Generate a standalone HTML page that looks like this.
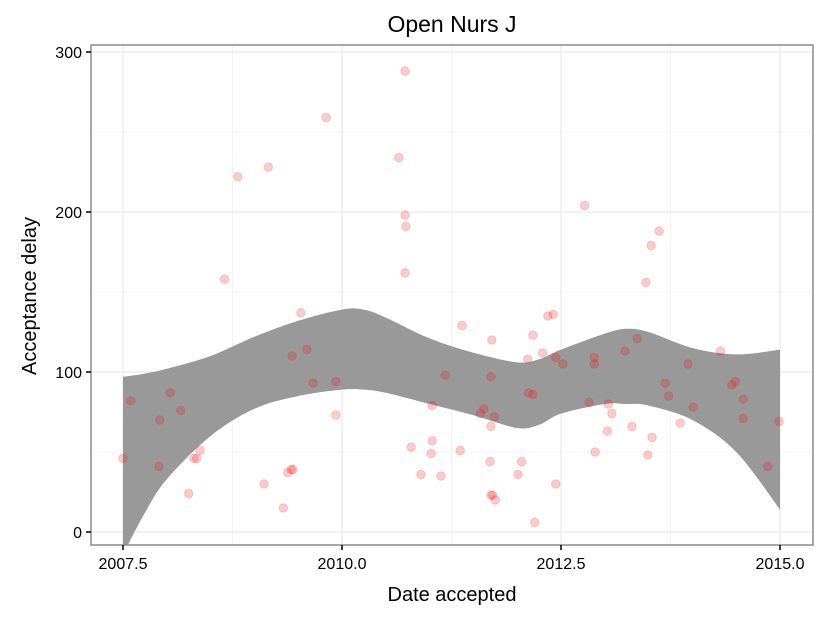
<!DOCTYPE html>
<html><head><meta charset="utf-8"><style>
body{margin:0;background:#fff}
svg text{font-family:"Liberation Sans",sans-serif}
</style></head><body>
<svg id="chart" width="825" height="618">
<text x="452" y="32" font-size="23" text-anchor="middle">Open Nurs J</text>
<text x="452" y="601" font-size="20" text-anchor="middle">Date accepted</text>
<text transform="translate(36,296) rotate(-90)" font-size="20" text-anchor="middle">Acceptance delay</text>
<defs><clipPath id="pc"><rect x="91" y="45" width="722" height="500"/></clipPath></defs>
<g id="grid"></g>
<g id="band" clip-path="url(#pc)"></g>
<g id="pts" clip-path="url(#pc)"></g>
<rect x="91" y="45" width="722" height="500" fill="none" stroke="#8a8a8a" stroke-width="1.5"/>
<g id="axes"></g>
</svg>
<script>
const xTicks=[2007.5,2010.0,2012.5,2015.0];
const xTickLabels=["2007.5","2010.0","2012.5","2015.0"];
const yTicks=[0,100,200,300];
const yTickLabels=["0","100","200","300"];
const dates=[2007.50,2007.59,2007.92,2007.91,2008.04,2008.16,2008.25,2008.31,2008.34,2008.38,2008.66,2008.81,2009.11,2009.16,2009.33,2009.38,2009.42,2009.44,2009.43,2009.53,2009.60,2009.67,2009.82,2009.93,2009.93,2010.65,2010.72,2010.72,2010.73,2010.72,2010.79,2010.90,2011.02,2011.03,2011.03,2011.13,2011.18,2011.35,2011.37,2011.58,2011.62,2011.69,2011.70,2011.70,2011.71,2011.70,2011.72,2011.74,2011.75,2012.01,2012.05,2012.12,2012.13,2012.18,2012.20,2012.18,2012.29,2012.35,2012.41,2012.44,2012.44,2012.52,2012.77,2012.82,2012.88,2012.88,2012.89,2013.03,2013.04,2013.08,2013.23,2013.31,2013.37,2013.47,2013.49,2013.53,2013.54,2013.62,2013.69,2013.73,2013.86,2013.95,2014.01,2014.32,2014.45,2014.49,2014.58,2014.58,2014.86,2014.99];
const delays=[46,82,70,41,87,76,24,46,46,51,158,222,30,228,15,37,39,39,110,137,114,93,259,94,73,234,288,198,191,162,53,36,49,57,79,35,98,51,129,74,77,44,97,66,120,23,23,72,20,36,44,108,87,86,6,123,112,135,136,30,109,105,204,81,109,105,50,63,80,74,113,66,121,156,48,179,59,188,93,85,68,105,78,113,92,94,83,71,41,69];
const bandX=[2007.5,2007.75,2008,2008.5,2009,2009.5,2010,2010.25,2010.5,2011,2011.5,2012,2012.25,2012.5,2013,2013.25,2013.5,2014,2014.5,2015];
const bandUpper=[97,99,102,110,122,132,139,139,134,121,112,106,108,114,124,127,125,115,111,114];
const bandLower=[-14,12,33,60,77,85,89,89,87,80,73,65,67,74,80,80,79,70,50,14];
const sx=v=>123+(v-2007.5)*87.6, sy=v=>532-v*1.6;
const NS="http://www.w3.org/2000/svg";
function mk(t,a,p){const e=document.createElementNS(NS,t);for(const k in a)e.setAttribute(k,a[k]);p.appendChild(e);return e;}
function spline(P){let s='';for(let i=0;i<P.length-1;i++){const p0=P[Math.max(0,i-1)],p1=P[i],p2=P[i+1],p3=P[Math.min(P.length-1,i+2)];
s+='C'+(p1[0]+(p2[0]-p0[0])/6)+','+(p1[1]+(p2[1]-p0[1])/6)+' '+(p2[0]-(p3[0]-p1[0])/6)+','+(p2[1]-(p3[1]-p1[1])/6)+' '+p2[0]+','+p2[1];}return s;}
const grid=document.getElementById('grid');
mk('rect',{x:91,y:45,width:722,height:500,fill:'#fff'},grid);
[50,150,250].forEach(v=>{const l=mk('line',{x1:91,x2:813,y1:sy(v),y2:sy(v),stroke:'#f3f3f3','stroke-width':1},grid);

});
[2008.75,2011.25,2013.75].forEach(v=>{const l=mk('line',{x1:sx(v),x2:sx(v),y1:45,y2:545,stroke:'#f3f3f3','stroke-width':1},grid);

});
yTicks.forEach(v=>{const l=mk('line',{x1:91,x2:813,y1:sy(v),y2:sy(v),stroke:'#e5e5e5','stroke-width':1},grid);

});
xTicks.forEach(v=>{const l=mk('line',{x1:sx(v),x2:sx(v),y1:45,y2:545,stroke:'#e5e5e5','stroke-width':1},grid);

});
const up=bandX.map((x,i)=>[sx(x),sy(bandUpper[i])]);
const lo=bandX.map((x,i)=>[sx(x),sy(bandLower[i])]).reverse();
const d='M'+up[0].join(',')+spline(up)+'L'+lo[0].join(',')+spline(lo)+'Z';
const b=mk('path',{d:d,fill:'#999999'},document.getElementById('band'));


const pts=document.getElementById('pts');
dates.forEach((x,i)=>{const c=mk('circle',{cx:sx(x),cy:sy(delays[i]),r:4.2,fill:'rgba(255,0,0,0.2)',stroke:'rgba(255,0,0,0.2)','stroke-width':1},pts);

});
const ax=document.getElementById('axes');
xTicks.forEach((v,i)=>{mk('line',{x1:sx(v),x2:sx(v),y1:545,y2:550,stroke:'#000','stroke-width':1.5},ax);
const t=mk('text',{x:sx(v),y:569,'font-size':16,'text-anchor':'middle'},ax);t.textContent=xTickLabels[i];

});
yTicks.forEach((v,i)=>{mk('line',{x1:86,x2:91,y1:sy(v),y2:sy(v),stroke:'#000','stroke-width':1.5},ax);
const t=mk('text',{x:82,y:sy(v)+6,'font-size':16,'text-anchor':'end'},ax);t.textContent=yTickLabels[i];

});
</script>
</body></html>
